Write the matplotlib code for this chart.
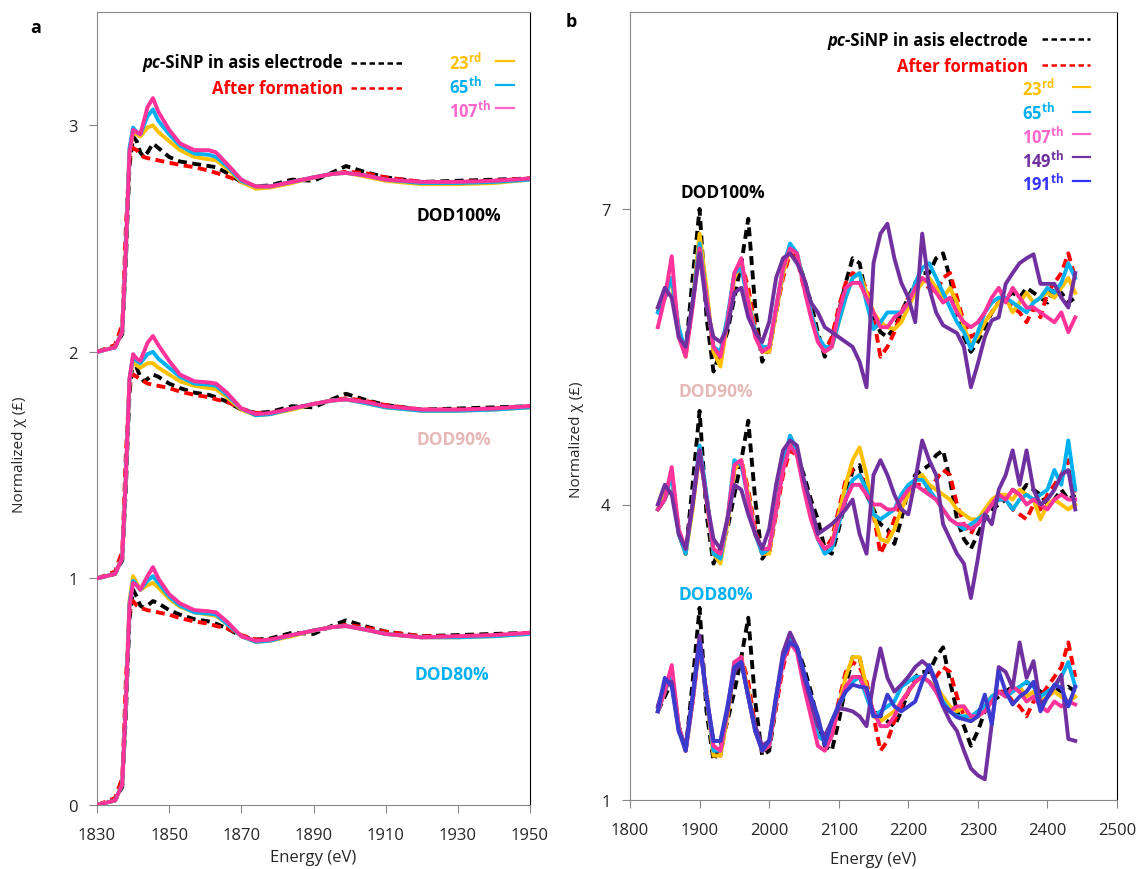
import matplotlib.pyplot as plt
from matplotlib.lines import Line2D

plt.rcParams["font.family"] = ["Open Sans", "DejaVu Sans"]
plt.rcParams["mathtext.fontset"] = "custom"
plt.rcParams["mathtext.rm"] = "Open Sans"
plt.rcParams["mathtext.bf"] = "Open Sans:bold"

# ---------------- panel a : XANES, three DOD groups stacked by +1 ----------------
E_A = [1830, 1835, 1837, 1838, 1839, 1840, 1841, 1842, 1843, 1844, 1845.5, 1847,
       1850, 1853, 1857, 1861, 1863, 1866, 1870, 1874, 1878, 1884, 1890, 1895,
       1899, 1904, 1910, 1920, 1930, 1940, 1950]
A_OFFSETS = {"DOD80%": 0, "DOD90%": 1, "DOD100%": 2}

a100_pristine = [0.00, 0.02, 0.08, 0.40, 0.82, 0.95, 0.93, 0.88, 0.86, 0.88, 0.92, 0.90, 0.86, 0.84, 0.83, 0.82,
                 0.815, 0.79, 0.75, 0.73, 0.735, 0.76, 0.755, 0.79, 0.82, 0.795, 0.77, 0.75, 0.755, 0.76, 0.765]
a100_formation = [0.00, 0.03, 0.12, 0.55, 0.85, 0.90, 0.89, 0.87, 0.86, 0.855, 0.85, 0.845, 0.835, 0.825, 0.815, 0.80,
                  0.79, 0.775, 0.75, 0.73, 0.73, 0.75, 0.77, 0.785, 0.795, 0.79, 0.77, 0.75, 0.75, 0.755, 0.765]
a100_23 = [0.00, 0.02, 0.09, 0.45, 0.88, 0.97, 0.96, 0.95, 0.97, 0.99, 1.00, 0.97, 0.93, 0.89, 0.86, 0.85,
           0.845, 0.81, 0.75, 0.72, 0.725, 0.745, 0.77, 0.785, 0.79, 0.775, 0.755, 0.74, 0.74, 0.745, 0.76]
a100_65 = [0.00, 0.02, 0.09, 0.45, 0.90, 0.99, 0.97, 0.96, 1.00, 1.04, 1.07, 1.02, 0.96, 0.91, 0.875, 0.87,
           0.86, 0.82, 0.755, 0.73, 0.73, 0.75, 0.77, 0.785, 0.79, 0.78, 0.76, 0.745, 0.745, 0.75, 0.76]
a100_107 = [0.00, 0.02, 0.09, 0.45, 0.88, 0.98, 0.97, 0.96, 1.02, 1.08, 1.12, 1.06, 0.98, 0.92, 0.89, 0.89,
            0.88, 0.83, 0.76, 0.73, 0.73, 0.75, 0.77, 0.785, 0.79, 0.78, 0.76, 0.75, 0.75, 0.755, 0.765]

a90_pristine = [0.00, 0.02, 0.08, 0.40, 0.82, 0.97, 0.93, 0.89, 0.87, 0.88, 0.90, 0.89, 0.86, 0.84, 0.82, 0.81,
                0.80, 0.78, 0.745, 0.73, 0.735, 0.76, 0.755, 0.79, 0.815, 0.79, 0.765, 0.745, 0.75, 0.755, 0.76]
a90_formation = [0.00, 0.03, 0.12, 0.55, 0.85, 0.90, 0.89, 0.88, 0.87, 0.86, 0.855, 0.85, 0.84, 0.825, 0.81, 0.80,
                 0.79, 0.78, 0.75, 0.73, 0.73, 0.75, 0.77, 0.785, 0.795, 0.785, 0.765, 0.745, 0.745, 0.75, 0.76]
a90_23 = [0.00, 0.02, 0.09, 0.45, 0.88, 0.96, 0.94, 0.93, 0.94, 0.95, 0.95, 0.93, 0.90, 0.87, 0.85, 0.84,
          0.835, 0.80, 0.745, 0.72, 0.725, 0.745, 0.77, 0.785, 0.79, 0.775, 0.755, 0.74, 0.74, 0.745, 0.755]
a90_65 = [0.00, 0.02, 0.09, 0.45, 0.88, 0.98, 0.96, 0.95, 0.97, 0.99, 1.00, 0.97, 0.93, 0.89, 0.86, 0.855,
          0.85, 0.81, 0.75, 0.72, 0.725, 0.75, 0.77, 0.785, 0.79, 0.775, 0.755, 0.74, 0.74, 0.745, 0.755]
a90_107 = [0.00, 0.02, 0.09, 0.45, 0.88, 0.99, 0.97, 0.96, 1.00, 1.04, 1.07, 1.03, 0.96, 0.90, 0.87, 0.865,
           0.86, 0.82, 0.75, 0.725, 0.73, 0.75, 0.77, 0.785, 0.79, 0.78, 0.76, 0.745, 0.745, 0.75, 0.76]

a80_pristine = [0.00, 0.02, 0.08, 0.40, 0.82, 0.95, 0.92, 0.88, 0.87, 0.88, 0.90, 0.89, 0.86, 0.84, 0.82, 0.81,
                0.80, 0.78, 0.745, 0.73, 0.735, 0.76, 0.755, 0.79, 0.815, 0.79, 0.765, 0.745, 0.75, 0.755, 0.76]
a80_formation = [0.00, 0.03, 0.12, 0.55, 0.85, 0.90, 0.88, 0.87, 0.865, 0.86, 0.855, 0.85, 0.84, 0.825, 0.81, 0.80,
                 0.79, 0.78, 0.75, 0.73, 0.73, 0.75, 0.77, 0.785, 0.795, 0.785, 0.765, 0.745, 0.745, 0.75, 0.76]
a80_23 = [0.00, 0.02, 0.09, 0.45, 0.90, 1.01, 0.98, 0.95, 0.96, 0.97, 0.98, 0.96, 0.91, 0.875, 0.85, 0.84,
          0.835, 0.80, 0.745, 0.72, 0.725, 0.745, 0.77, 0.785, 0.79, 0.775, 0.755, 0.74, 0.74, 0.745, 0.755]
a80_65 = [0.00, 0.02, 0.09, 0.45, 0.89, 0.99, 0.97, 0.95, 0.97, 0.99, 1.01, 0.98, 0.92, 0.88, 0.85, 0.845,
          0.84, 0.80, 0.745, 0.72, 0.725, 0.75, 0.77, 0.785, 0.79, 0.775, 0.755, 0.74, 0.74, 0.745, 0.755]
a80_107 = [0.00, 0.02, 0.09, 0.45, 0.88, 0.98, 0.97, 0.95, 0.98, 1.01, 1.05, 1.00, 0.93, 0.89, 0.86, 0.855,
           0.85, 0.81, 0.745, 0.725, 0.73, 0.75, 0.77, 0.785, 0.79, 0.775, 0.755, 0.74, 0.745, 0.75, 0.76]

A_SERIES = {
    "DOD100%": [a100_pristine, a100_formation, a100_23, a100_65, a100_107],
    "DOD90%": [a90_pristine, a90_formation, a90_23, a90_65, a90_107],
    "DOD80%": [a80_pristine, a80_formation, a80_23, a80_65, a80_107],
}

# ---------------- panel b : normalized chi, already stacked ----------------
E_B = list(range(1840, 2441, 10))

b100_pristine = [5.95, 6.10, 6.25, 5.75, 5.55, 6.30, 7.00, 5.90, 5.35, 5.55,
                 5.75, 6.10, 6.45, 6.90, 6.00, 5.45, 5.60, 5.95, 6.35, 6.60,
                 6.50, 6.30, 6.05, 5.75, 5.50, 5.65, 5.95, 6.25, 6.50, 6.45,
                 6.10, 5.90, 5.75, 5.70, 5.80, 5.95, 6.10, 6.25, 6.35, 6.35,
                 6.50, 6.55, 6.30, 5.95, 5.70, 5.55, 5.65, 5.80, 5.95, 6.05,
                 6.10, 6.15, 6.10, 6.20, 6.15, 6.10, 6.05, 6.20, 6.15, 6.05, 6.10]
b100_formation = [5.95, 6.10, 6.30, 5.75, 5.55, 6.05, 6.60, 6.15, 5.55, 5.45,
                  5.85, 6.30, 6.45, 6.20, 5.80, 5.55, 5.55, 5.95, 6.30, 6.55,
                  6.50, 6.20, 5.95, 5.70, 5.55, 5.70, 6.00, 6.25, 6.35, 6.30,
                  6.20, 5.90, 5.50, 5.60, 5.75, 5.95, 6.10, 6.20, 6.25, 6.20,
                  6.15, 6.30, 6.35, 6.10, 5.85, 5.70, 5.75, 5.85, 5.95, 6.05,
                  6.10, 6.00, 5.95, 5.85, 6.00, 5.90, 6.15, 6.25, 6.35, 6.55, 6.30]
b100_23 = [6.00, 6.15, 6.25, 5.80, 5.50, 6.05, 6.75, 6.20, 5.55, 5.40,
           5.85, 6.30, 6.45, 6.10, 5.75, 5.55, 5.55, 5.95, 6.35, 6.60,
           6.55, 6.25, 5.95, 5.70, 5.55, 5.60, 5.85, 6.10, 6.30, 6.35,
           6.15, 5.95, 5.85, 5.80, 5.78, 5.85, 6.00, 6.15, 6.25, 6.30,
           6.20, 6.10, 6.20, 6.05, 5.80, 5.62, 5.70, 5.85, 5.95, 6.05,
           6.10, 5.95, 6.05, 6.15, 6.05, 6.10, 6.15, 6.10, 6.20, 6.30, 6.15]
b100_65 = [5.95, 6.10, 6.30, 5.80, 5.55, 6.05, 6.65, 6.10, 5.60, 5.55,
           5.90, 6.35, 6.40, 6.05, 5.75, 5.60, 5.60, 6.00, 6.40, 6.65,
           6.55, 6.25, 5.95, 5.70, 5.60, 5.60, 5.85, 6.10, 6.30, 6.35,
           6.05, 5.78, 5.85, 5.95, 5.95, 5.95, 6.05, 6.25, 6.40, 6.45,
           6.30, 6.15, 6.00, 5.85, 5.75, 5.58, 5.75, 5.95, 6.05, 6.10,
           6.10, 6.05, 6.00, 5.95, 6.05, 6.10, 6.20, 6.15, 6.25, 6.45, 6.30]
b100_107 = [5.80, 6.10, 6.52, 5.70, 5.50, 6.00, 6.60, 6.10, 5.60, 5.50,
            5.85, 6.35, 6.50, 6.05, 5.70, 5.55, 5.60, 6.00, 6.40, 6.60,
            6.55, 6.20, 5.90, 5.65, 5.55, 5.60, 5.95, 6.20, 6.25, 6.25,
            6.10, 5.95, 5.80, 5.80, 5.90, 5.95, 6.05, 6.20, 6.30, 6.25,
            6.15, 6.05, 6.10, 5.95, 5.85, 5.80, 5.85, 5.95, 6.10, 6.20,
            6.05, 6.20, 6.10, 6.00, 6.00, 5.95, 5.90, 5.85, 5.95, 5.75, 5.90]
b100_149 = [6.00, 6.20, 6.10, 5.70, 5.60, 6.05, 6.55, 6.00, 5.70, 5.65,
            5.80, 6.15, 6.20, 5.90, 5.75, 5.65, 5.85, 6.30, 6.50, 6.55,
            6.45, 6.30, 6.05, 5.95, 5.80, 5.75, 5.70, 5.65, 5.60, 5.45,
            5.19, 6.45, 6.75, 6.85, 6.50, 6.25, 6.10, 5.85, 6.75, 6.20,
            5.95, 5.82, 5.78, 5.74, 5.60, 5.19, 5.43, 5.70, 5.87, 5.90,
            6.24, 6.35, 6.45, 6.50, 6.54, 6.24, 6.24, 6.24, 6.10, 6.00, 6.35]

b90_pristine = [3.95, 4.05, 4.25, 3.75, 3.50, 4.20, 4.95, 3.90, 3.40, 3.55,
                3.75, 4.10, 4.45, 4.85, 4.05, 3.45, 3.55, 3.95, 4.40, 4.60,
                4.50, 4.30, 4.05, 3.85, 3.55, 3.50, 3.75, 4.05, 4.35, 4.40,
                4.10, 3.95, 3.80, 3.75, 3.60, 3.85, 4.15, 4.30, 4.35, 4.40,
                4.50, 4.55, 4.25, 3.85, 3.65, 3.55, 3.70, 3.85, 3.95, 4.00,
                4.05, 4.15, 4.10, 4.20, 4.15, 4.10, 4.00, 4.05, 4.15, 4.05, 4.10]
b90_formation = [3.95, 4.05, 4.30, 3.70, 3.50, 4.00, 4.50, 4.10, 3.50, 3.45,
                 3.80, 4.35, 4.45, 4.15, 3.75, 3.50, 3.50, 3.90, 4.30, 4.55,
                 4.50, 4.20, 3.90, 3.65, 3.55, 3.65, 3.95, 4.25, 4.35, 4.30,
                 4.20, 3.90, 3.50, 3.65, 3.85, 4.00, 4.10, 4.20, 4.20, 4.15,
                 4.25, 4.35, 4.30, 4.00, 3.80, 3.70, 3.85, 3.90, 4.00, 4.05,
                 4.05, 3.95, 3.90, 3.85, 4.00, 3.95, 4.10, 4.20, 4.30, 4.45, 4.10]
b90_23 = [3.95, 4.10, 4.30, 3.70, 3.50, 3.95, 4.55, 4.05, 3.50, 3.40,
          3.80, 4.35, 4.45, 4.10, 3.70, 3.50, 3.50, 3.95, 4.40, 4.65,
          4.55, 4.20, 3.90, 3.65, 3.55, 3.60, 3.90, 4.20, 4.45, 4.58,
          4.30, 3.90, 3.65, 3.62, 3.75, 3.95, 4.10, 4.25, 4.30, 4.20,
          4.15, 4.10, 4.05, 3.95, 3.90, 3.85, 3.85, 3.95, 4.05, 4.10,
          4.10, 4.05, 4.15, 4.10, 4.05, 3.85, 4.00, 4.05, 4.00, 3.95, 4.00]
b90_65 = [3.95, 4.05, 4.30, 3.70, 3.50, 4.00, 4.60, 4.10, 3.50, 3.45,
          3.85, 4.45, 4.40, 4.05, 3.70, 3.50, 3.55, 3.95, 4.40, 4.70,
          4.55, 4.20, 3.90, 3.65, 3.50, 3.55, 3.80, 4.05, 4.25, 4.30,
          4.15, 3.90, 3.85, 3.90, 3.95, 4.10, 4.20, 4.25, 4.25, 4.15,
          4.05, 3.95, 3.85, 3.80, 3.75, 3.80, 3.85, 3.90, 4.00, 4.05,
          4.05, 3.95, 4.05, 4.10, 4.05, 4.10, 4.15, 4.35, 4.20, 4.65, 4.15]
b90_107 = [3.95, 4.05, 4.38, 3.75, 3.55, 4.00, 4.55, 4.05, 3.55, 3.50,
           3.85, 4.40, 4.45, 4.05, 3.70, 3.55, 3.55, 3.95, 4.35, 4.60,
           4.50, 4.15, 3.85, 3.65, 3.55, 3.60, 3.85, 4.05, 4.20, 4.20,
           4.10, 4.00, 4.00, 3.95, 3.95, 4.05, 4.15, 4.20, 4.15, 4.10,
           4.05, 3.95, 3.85, 3.80, 3.80, 3.75, 3.80, 3.90, 4.00, 4.10,
           4.05, 4.15, 4.10, 4.00, 4.05, 4.00, 3.95, 4.05, 4.10, 4.05, 4.05]
b90_149 = [4.00, 4.20, 4.10, 3.70, 3.55, 4.00, 4.55, 4.05, 3.65, 3.55,
           3.85, 4.20, 4.15, 3.90, 3.70, 3.55, 3.75, 4.20, 4.55, 4.65,
           4.60, 4.25, 4.00, 3.70, 3.75, 3.80, 3.87, 3.95, 4.05, 3.70,
           3.50, 4.30, 4.45, 4.30, 4.10, 3.95, 3.90, 4.25, 4.65, 4.45,
           4.30, 3.80, 3.65, 3.50, 3.40, 3.05, 3.45, 3.90, 3.80, 4.15,
           4.30, 4.55, 4.20, 4.55, 4.15, 4.00, 4.05, 4.15, 4.30, 4.35, 3.95]

b80_pristine = [1.90, 2.05, 2.20, 1.75, 1.50, 2.20, 2.95, 1.90, 1.40, 1.55,
                1.80, 2.10, 2.45, 2.85, 2.00, 1.45, 1.50, 1.95, 2.45, 2.65,
                2.55, 2.35, 2.10, 1.80, 1.55, 1.50, 1.80, 2.15, 2.45, 2.45,
                2.10, 1.90, 1.85, 1.80, 1.75, 1.90, 2.10, 2.25, 2.30, 2.30,
                2.45, 2.55, 2.20, 1.90, 1.75, 1.55, 1.70, 1.90, 2.00, 2.05,
                2.10, 2.15, 2.10, 2.20, 2.15, 2.10, 2.05, 2.15, 2.10, 2.15, 2.10]
b80_formation = [1.95, 2.10, 2.30, 1.75, 1.50, 2.00, 2.55, 2.10, 1.50, 1.45,
                 1.85, 2.35, 2.45, 2.20, 1.75, 1.50, 1.55, 1.95, 2.35, 2.60,
                 2.55, 2.20, 1.90, 1.65, 1.60, 1.70, 2.00, 2.30, 2.40, 2.35,
                 2.20, 1.85, 1.50, 1.60, 1.80, 1.95, 2.10, 2.20, 2.25, 2.20,
                 2.25, 2.35, 2.30, 2.05, 1.85, 1.80, 1.90, 1.95, 2.05, 2.10,
                 2.10, 2.00, 1.95, 1.85, 2.00, 2.05, 2.15, 2.25, 2.35, 2.60, 2.25]
b80_23 = [1.90, 2.10, 2.30, 1.75, 1.50, 2.00, 2.60, 2.05, 1.45, 1.45,
          1.85, 2.35, 2.45, 2.10, 1.70, 1.50, 1.55, 2.00, 2.45, 2.65,
          2.55, 2.20, 1.90, 1.65, 1.60, 1.65, 1.95, 2.25, 2.45, 2.45,
          2.15, 1.85, 1.80, 1.85, 1.90, 2.00, 2.10, 2.20, 2.25, 2.20,
          2.15, 2.05, 1.95, 1.90, 1.95, 1.80, 1.85, 1.95, 2.05, 2.10,
          2.05, 2.10, 2.15, 2.05, 2.10, 2.00, 2.05, 2.10, 2.05, 2.00, 2.05]
b80_65 = [1.90, 2.10, 2.30, 1.75, 1.50, 2.00, 2.60, 2.05, 1.50, 1.50,
          1.90, 2.40, 2.40, 2.05, 1.70, 1.50, 1.55, 2.00, 2.45, 2.65,
          2.55, 2.20, 1.90, 1.65, 1.60, 1.70, 1.95, 2.10, 2.20, 2.25,
          2.05, 1.85, 1.90, 1.95, 2.00, 2.15, 2.20, 2.25, 2.25, 2.20,
          2.10, 2.00, 1.90, 1.85, 1.85, 1.85, 1.90, 1.95, 2.05, 2.10,
          2.05, 2.10, 2.15, 2.20, 2.15, 2.05, 2.10, 2.15, 2.25, 2.40, 2.15]
b80_107 = [1.90, 2.10, 2.37, 1.75, 1.50, 2.00, 2.60, 2.05, 1.55, 1.50,
           1.90, 2.40, 2.45, 2.05, 1.70, 1.50, 1.55, 2.00, 2.40, 2.60,
           2.50, 2.15, 1.85, 1.55, 1.50, 1.65, 1.95, 2.15, 2.25, 2.25,
           2.10, 1.90, 1.75, 1.75, 1.85, 2.00, 2.10, 2.20, 2.25, 2.20,
           2.10, 1.95, 1.90, 1.95, 1.95, 1.85, 1.85, 1.90, 2.00, 2.10,
           2.05, 2.15, 2.10, 2.00, 2.05, 1.95, 1.90, 2.00, 1.95, 2.00, 1.97]
b80_149 = [1.95, 2.20, 2.20, 1.70, 1.55, 2.05, 2.67, 2.05, 1.60, 1.60,
           1.90, 2.30, 2.40, 2.05, 1.75, 1.55, 1.60, 2.05, 2.50, 2.70,
           2.55, 2.25, 2.00, 1.75, 1.65, 1.80, 1.93, 1.92, 1.90, 1.85,
           1.75, 2.20, 2.54, 2.24, 2.10, 2.17, 2.25, 2.35, 2.41, 2.35,
           2.17, 1.95, 1.80, 1.70, 1.50, 1.32, 1.25, 1.21, 1.77, 2.35,
           2.30, 2.14, 2.60, 2.24, 2.41, 1.97, 2.04, 2.15, 2.27, 1.62, 1.60]
b80_191 = [1.90, 2.24, 2.15, 1.70, 1.50, 2.05, 2.60, 2.05, 1.60, 1.60,
           1.95, 2.35, 2.40, 2.05, 1.70, 1.50, 1.60, 2.05, 2.45, 2.60,
           2.55, 2.30, 2.05, 1.85, 1.56, 1.80, 1.97, 2.10, 2.17, 2.15,
           2.14, 1.85, 1.85, 2.07, 1.95, 1.90, 1.95, 2.00, 2.20, 2.37,
           2.20, 1.97, 1.90, 1.84, 1.82, 1.80, 1.85, 2.07, 1.77, 2.31,
           2.10, 1.97, 2.05, 2.10, 2.20, 1.90, 2.05, 2.17, 2.14, 1.95, 2.15]

B_SERIES = {
    "DOD100%": [b100_pristine, b100_formation, b100_23, b100_65, b100_107, b100_149],
    "DOD90%": [b90_pristine, b90_formation, b90_23, b90_65, b90_107, b90_149],
    "DOD80%": [b80_pristine, b80_formation, b80_23, b80_65, b80_107, b80_149, b80_191],
}

CYCLE_LABELS = [r"23$^{\mathbf{rd}}$", r"65$^{\mathbf{th}}$", r"107$^{\mathbf{th}}$",
                r"149$^{\mathbf{th}}$", r"191$^{\mathbf{th}}$"]

# series styles: pristine, after formation, 23rd, 65th, 107th, 149th, 191st
LINE_COLORS = ["black", "#FF0000", "#FFC000", "#00B0F0", "#FF3399", "#7030A0", "#3B3BD0"]
TEXT_COLORS = ["black", "#FF0000", "#FFC000", "#00B0F0", "#FF66CC", "#7030A0", "#3333FF"]
DOD_COLORS = {"DOD100%": "black", "DOD90%": "#E6B9B8", "DOD80%": "#00B0F0"}

W, H = 1136, 870
GRAY = "#868686"
LEG_FS = 12


def fx(x):
    return x / W


def fy(y):
    return 1 - y / H


def draw(ax, x, ys):
    for i, y in enumerate(ys):
        if i < 2:
            ax.plot(x, y, color=LINE_COLORS[i], lw=2.8, dashes=(2.3, 1.4),
                    solid_joinstyle="round", zorder=2 + i)
        else:
            ax.plot(x, y, color=LINE_COLORS[i], lw=2.8, solid_joinstyle="round",
                    zorder=2 + i)


def style(ax):
    for s in ["left", "bottom", "top"]:
        ax.spines[s].set_color(GRAY)
    ax.spines["right"].set_color("black")
    ax.tick_params(direction="out", length=6, color=GRAY, labelsize=12,
                   labelcolor="#262626")
    ax.tick_params(axis="x", pad=10)
    ax.tick_params(axis="y", pad=8)


fig = plt.figure(figsize=(W / 100, H / 100), dpi=100)
ax_a = fig.add_axes([fx(97), fy(806), fx(433), 793 / H])
ax_b = fig.add_axes([fx(630), fy(801), fx(487), 788 / H])

for name, ys in A_SERIES.items():
    off = A_OFFSETS[name]
    draw(ax_a, E_A, [[v + off for v in y] for y in ys])
ax_a.set_xlim(1830, 1950)
ax_a.set_ylim(0, 3.5)
ax_a.set_xticks(range(1830, 1951, 20))
ax_a.set_yticks([0, 1, 2, 3])
style(ax_a)

for name, ys in B_SERIES.items():
    draw(ax_b, E_B, ys)
ax_b.set_xlim(1800, 2500)
ax_b.set_ylim(1, 9)
ax_b.set_xticks(range(1800, 2501, 100))
ax_b.set_yticks([1, 4, 7])
style(ax_b)

# axis titles
for xc, yc in [(313, 858), (873, 860)]:
    fig.text(fx(xc), fy(yc), "Energy (eV)", ha="center", va="center",
             fontsize=12, color="#262626")
for xc, yc in [(20, 455), (576, 440)]:
    fig.text(fx(xc), fy(yc), "Normalized χ (£)", ha="center", va="center",
             rotation=90, fontsize=11, color="#262626")
fig.text(fx(30), fy(33), "a", fontsize=13, fontweight="bold")
fig.text(fx(566), fy(27), "b", fontsize=13, fontweight="bold")

# group labels
A_LABEL_POS = {"DOD100%": (416, 221), "DOD90%": (416, 445), "DOD80%": (414, 680)}
B_LABEL_POS = {"DOD100%": (680, 198), "DOD90%": (678, 397), "DOD80%": (678, 600)}
for pos in (A_LABEL_POS, B_LABEL_POS):
    for name, (xl, yl) in pos.items():
        fig.text(fx(xl), fy(yl), name, ha="left", va="baseline", fontsize=12.5,
                 fontweight="bold", color=DOD_COLORS[name])


def legend(right_x, rows_y, dash_x, dash_y, cyc_x, cyc_y, seg_x, seg_y, n_cyc):
    rest = fig.text(fx(right_x), fy(rows_y[0]), "-SiNP in asis electrode", ha="right",
                    va="baseline", fontsize=LEG_FS, fontweight="bold", color="black")
    fig.add_artist(plt.Annotation("pc", xy=(0, 0), xycoords=rest, ha="right", va="bottom",
                                  fontsize=LEG_FS, fontweight="bold", style="italic",
                                  color="black", annotation_clip=False))
    fig.text(fx(right_x), fy(rows_y[1]), "After formation", ha="right", va="baseline",
             fontsize=LEG_FS, fontweight="bold", color="#FF0000")
    for i, yy in enumerate(dash_y):
        fig.add_artist(Line2D([fx(dash_x[0]), fx(dash_x[1])], [fy(yy), fy(yy)],
                              color=LINE_COLORS[i], lw=1.8, dashes=(2.2, 1.4)))
    for k in range(n_cyc):
        fig.text(fx(cyc_x), fy(cyc_y[k]), CYCLE_LABELS[k], ha="left", va="baseline",
                 fontsize=LEG_FS, fontweight="bold", color=TEXT_COLORS[k + 2])
        fig.add_artist(Line2D([fx(seg_x[0]), fx(seg_x[1])], [fy(seg_y[k]), fy(seg_y[k])],
                              color=TEXT_COLORS[k + 2], lw=1.6))


legend(343, [68, 94], (351, 403), [64, 89], 449, [70, 94, 118], (496, 514), [62, 86, 109], 3)
legend(1028, [46, 72], (1042, 1090), [40, 66], 1022, [96, 120, 144, 168, 191],
       (1073, 1090), [88, 113, 135, 158, 182], 5)

fig.savefig("out.png", dpi=100, facecolor="white")
